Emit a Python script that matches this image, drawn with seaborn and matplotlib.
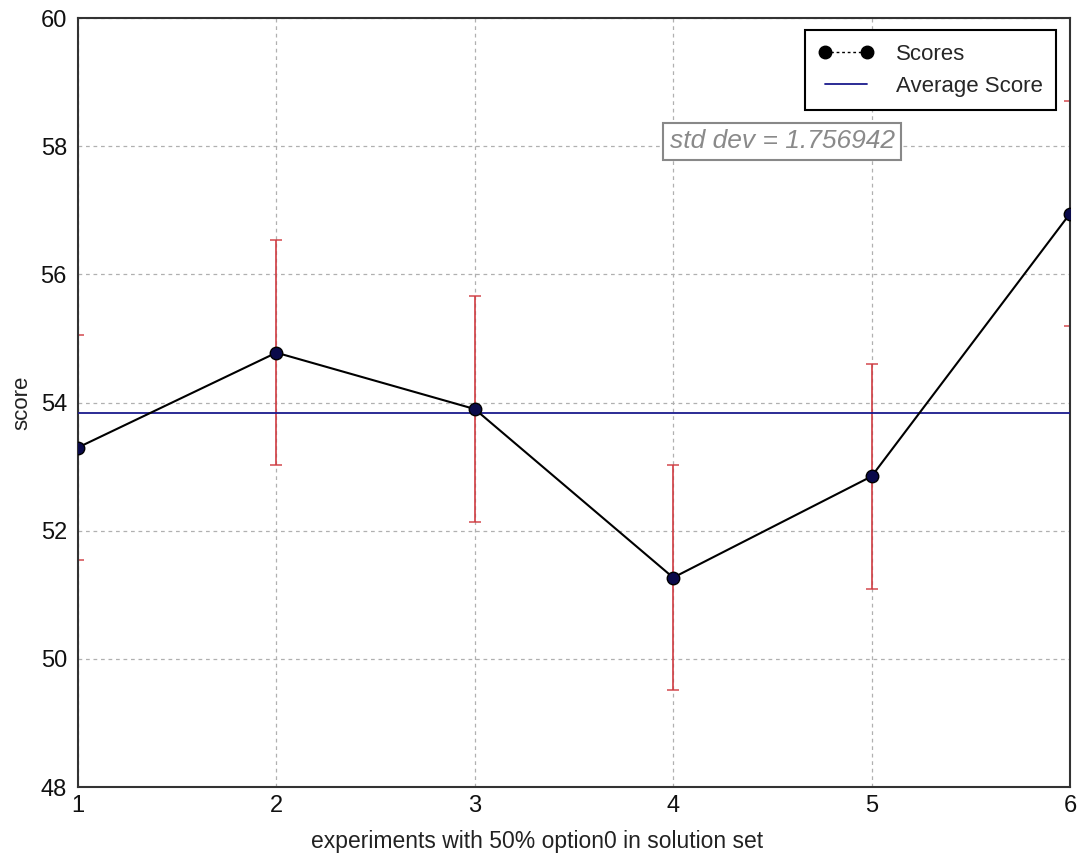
import matplotlib
matplotlib.use("Agg")
import matplotlib.pyplot as plt
from matplotlib.lines import Line2D
import numpy as np
import pandas as pd
import seaborn as sns

# experiment results
experiments = [1, 2, 3, 4, 5, 6]
scores = [53.30, 54.78, 53.90, 51.27, 52.85, 56.95]
std_dev = 1.756942
y_ticks = [48, 50, 52, 54, 56, 58, 60]

df = pd.DataFrame({"experiment": experiments, "score": scores})
avg_score = float(np.mean(scores))

sns.set_style("white")
plt.rcParams["font.family"] = ["Liberation Sans", "DejaVu Sans"]

fig = plt.figure(figsize=(10.83, 8.65), dpi=100)
ax = fig.add_axes([0.072, 0.090, 0.916, 0.889])

# error bars (one std dev either side)
ax.errorbar(df["experiment"], df["score"], yerr=std_dev, fmt="none",
            ecolor="#cf3a40", elinewidth=1.4, capsize=4, capthick=1.2,
            alpha=0.85, zorder=2)

# score line with markers
sns.lineplot(data=df, x="experiment", y="score", ax=ax, color="black",
             linewidth=1.5, marker="o", markersize=9,
             markerfacecolor="#0a0a4a", markeredgecolor="black",
             markeredgewidth=1.0, zorder=4)

# average score
ax.axhline(avg_score, color="#1a1a8c", linewidth=1.3, zorder=3)

ax.set_xlim(1, 6)
ax.set_ylim(48, 60)
ax.set_xticks(experiments)
ax.set_yticks(y_ticks)
ax.grid(True, linestyle=(0, (3, 3)), color="#b0b0b0", linewidth=0.9)
ax.tick_params(axis="both", direction="in", length=4, color="#aaaaaa",
               labelsize=17, labelcolor="#111111")
ax.tick_params(axis="y", pad=8)
ax.tick_params(axis="x", pad=6)
for sp in ax.spines.values():
    sp.set_color("#333333")
    sp.set_linewidth(1.5)

ax.set_xlabel("experiments with 50% option0 in solution set", fontsize=16.5,
              color="#222222", labelpad=9)
ax.xaxis.label.set_x(0.463)
ax.set_ylabel("score", fontsize=16, color="#222222", labelpad=6)

ax.text(4.55, 58.08, "std dev = %f" % std_dev, fontsize=19, style="italic",
        color="#8a8a8a", ha="center", va="center",
        bbox=dict(boxstyle="square,pad=0.25", facecolor="white",
                  edgecolor="#888888", linewidth=1.5), zorder=5)

handles = [
    Line2D([0], [0], color="black", linestyle=(0, (2, 2)), linewidth=1,
           marker="o", markersize=9, markerfacecolor="black",
           markeredgecolor="black"),
    Line2D([0], [0], color="#1a1a8c", linewidth=1.3),
]
leg = ax.legend(handles, ["Scores", "Average Score"], loc="upper right",
                fontsize=16, frameon=True, fancybox=False, framealpha=1,
                edgecolor="black", borderpad=0.6, handlelength=2.5,
                numpoints=2, labelspacing=0.5, handletextpad=1.0,
                borderaxespad=0, bbox_to_anchor=(0.986, 0.984))
leg.get_frame().set_linewidth(1.5)
leg.get_frame().set_facecolor("white")
leg.set_zorder(6)

fig.savefig("out.png", dpi=100, facecolor="white")
